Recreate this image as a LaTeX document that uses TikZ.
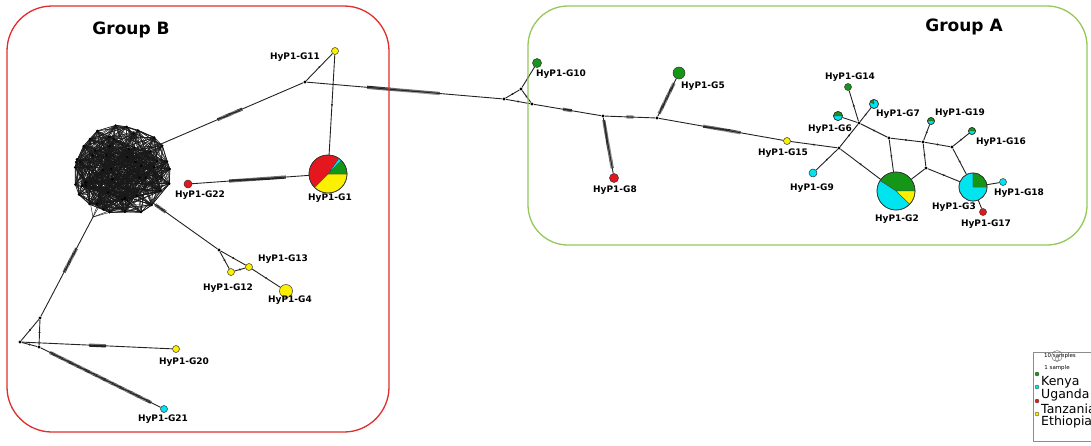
\documentclass[tikz,border=0pt]{standalone}
\usepackage{fontspec}
\setmainfont{DejaVu Sans}
\usetikzlibrary{decorations.markings,backgrounds}

\definecolor{kenya}{RGB}{22,150,22}
\definecolor{uganda}{RGB}{0,228,240}
\definecolor{tanz}{RGB}{228,22,30}
\definecolor{ethio}{RGB}{250,240,0}
\definecolor{edgeg}{RGB}{35,35,35}
\definecolor{boxred}{RGB}{225,45,45}
\definecolor{boxgreen}{RGB}{150,200,90}

\tikzset{
  hap/.style={circle, draw=black!80, line width=0.5pt, inner sep=0pt, minimum size=#1},
  jn/.style={circle, fill=black, inner sep=0pt, minimum size=3.4pt},
  lab/.style={font=\bfseries\fontsize{9}{10}\selectfont, inner sep=0pt},
  title/.style={font=\bfseries\fontsize{17}{19}\selectfont, inner sep=0pt},
  link/.style={draw=edgeg, line width=0.9pt},
  hair/.style={draw=black!90, line width=0.45pt},
  muts/.style 2 args={postaction={decorate, decoration={markings,
     mark=between positions #1 and #2 step 1pt with {\draw[edgeg, line width=0.6pt] (0,-1.6pt) -- (0,1.6pt);}}}},
  onemut/.style={postaction={decorate, decoration={markings,
     mark=at position #1 with {\fill[edgeg] (0,0) circle (1.1pt);}}}},
  onemut/.default=0.5,
  lgdot/.style={circle, draw=black!70, line width=0.4pt, inner sep=0pt, minimum size=4pt},
  lgtext/.style={anchor=west, inner sep=0pt, font=\fontsize{12.5}{13}\selectfont},
}

% pie wedge: node, radius, start angle, end angle (counter-clockwise), colour
\newcommand\wedgefill[5]{%
  \filldraw[fill=#5, draw=black!75, line width=0.35pt] (#1.center) -- ++(-#3:#2)
    arc[start angle=-#3, end angle=-#4, radius=#2] -- cycle;}

\begin{document}
\begin{tikzpicture}[x=1pt, y=-1pt]
\clip (0,0) rectangle (1091,445);

% group frames
\draw[boxred, line width=1.3pt, rounded corners=45pt] (7,6) rectangle (389,432);
\draw[boxgreen, line width=1.3pt, rounded corners=40pt] (528,6) rectangle (1087,245);
\node[title] (tB) at (131,30) {Group B};
\node[title] (tA) at (964,27) {Group A};

% ---------- haplotypes and median vectors ----------
% group B
\node[jn] (J1) at (305,82) {};
\node[hap=7, fill=ethio] (G11) at (335,51) {};
\node[hap=38] (G1) at (328,174) {};
\node[hap=8, fill=tanz] (G22) at (188,184) {};
\node[jn] (J3) at (219,250) {};
\node[hap=7, fill=ethio] (G13) at (249,267) {};
\node[hap=7, fill=ethio] (G12) at (231,272) {};
\node[hap=13, fill=ethio] (G4) at (286,291) {};
\node[jn] (J4) at (40,318) {};
\node[jn] (J5) at (20,342) {};
\node[jn] (J6) at (39,347) {};
\node[hap=7, fill=ethio] (G20) at (176,349) {};
\node[hap=7, fill=uganda] (G21) at (164,409) {};
\coordinate (cA) at (161,144);
\coordinate (cB) at (153,203);
\coordinate (cC) at (93,217);

% group A
\node[jn] (J2) at (504,99) {};
\node[jn] (J7) at (521,89) {};
\node[jn] (J8) at (532,104) {};
\node[hap=9, fill=kenya] (G10) at (537,63) {};
\node[jn] (J9) at (603,116) {};
\node[hap=9, fill=tanz] (G8) at (614,178) {};
\node[jn] (J10) at (657,118) {};
\node[hap=12, fill=kenya] (G5) at (679,73) {};
\node[hap=7, fill=ethio] (G15) at (787,141) {};
\node[jn] (J11) at (839,148) {};
\node[hap=8, fill=uganda] (G9) at (813,173) {};
\node[jn] (J12) at (859,123) {};
\node[hap=9] (G6) at (838,116) {};
\node[hap=7, fill=kenya] (G14) at (848,87) {};
\node[hap=9, fill=uganda] (G7) at (874,104) {};
\node[jn] (J13) at (889,138) {};
\node[jn] (J14) at (923,142) {};
\node[hap=7] (G19) at (931,121) {};
\node[jn] (J15) at (952,147) {};
\node[hap=7] (G16) at (972,131) {};
\node[jn] (J16) at (926,168) {};
\node[hap=38] (G2) at (896,191) {};
\node[hap=28] (G3) at (973,187) {};
\node[hap=7, fill=uganda] (G18) at (1003,182) {};
\node[hap=7, fill=tanz] (G17) at (983,212) {};

% ---------- connectors ----------
\begin{pgfonlayer}{background}
  \fill[white] (0,0) rectangle (1091,445);
  % dense cluster of group B
  \pgfmathsetseed{2024}
  \foreach \i in {1,...,22} {
    \pgfmathsetmacro\ang{\i*360/22 + 6*rand}
    \pgfmathsetmacro\rr{0.94+0.06*rand}
    \coordinate (h\i) at ({121+51*\rr*cos(\ang)},{170+47*\rr*sin(\ang)});
  }
  \foreach \i in {23,...,60} {
    \pgfmathsetmacro\ang{360*rnd}
    \pgfmathsetmacro\rr{0.9*sqrt(rnd)}
    \coordinate (h\i) at ({121+51*\rr*cos(\ang)},{170+47*\rr*sin(\ang)});
  }
  \foreach \i in {1,...,60} {
    \foreach \k in {1,...,11} {
      \pgfmathrandominteger{\j}{1}{60}
      \draw[hair] (h\i) -- (h\j);
    }
  }
  \draw[hair, line width=0.7pt] (h1) \foreach \i in {2,...,22} {-- (h\i)} -- cycle;
  \foreach \i [evaluate=\i as \n using {int(mod(\i+1,22)+1)}] in {1,...,22}
    {\draw[hair] (h\i) -- (h\n);}
  \foreach \i in {1,...,60} {\fill (h\i) circle (1.3);}
  \foreach \c in {cA,cB,cC} {
    \foreach \k in {1,...,5} {
      \pgfmathrandominteger{\j}{1}{60}
      \draw[hair] (\c) -- (h\j);
    }
  }

  % group B links
  \draw[link, muts={0.40}{0.57}] (cA) -- (J1);
  \draw[link, onemut] (J1) -- (G11);
  \draw[link, muts={0.31}{0.68}] (J1) -- (J2);
  \draw[link, onemut] (G11) -- (G1);
  \draw[link, muts={0.32}{0.80}] (G22) -- (G1);
  \draw[link, muts={0.04}{0.20}] (cB) -- (J3);
  \draw[link, onemut] (J3) -- (G13);
  \draw[link, onemut] (G13) -- (G4);
  \draw[link, onemut] (J3) -- (G12);
  \draw[link, onemut] (G12) -- (G13);
  \draw[link, muts={0.32}{0.56}] (cC) -- (J4);
  \draw[link, onemut] (J4) -- (J5);
  \draw[link, onemut] (J4) -- (J6);
  \draw[link, onemut] (J5) -- (J6);
  \draw[link, muts={0.45}{0.56}] (J5) -- (G20);
  \draw[link, muts={0.08}{0.92}] (J6) -- (G21);

  % group A links
  \draw[link, onemut] (J2) -- (J7);
  \draw[link, onemut] (J7) -- (J8);
  \draw[link, onemut] (J2) -- (J8);
  \draw[link, onemut] (J7) -- (G10);
  \draw[link, muts={0.44}{0.57}] (J8) -- (J9);
  \draw[link, muts={0.05}{0.92}] (J9) -- (G8);
  \draw[link, muts={0.44}{0.57}] (J9) -- (J10);
  \draw[link, muts={0.08}{0.88}] (J10) -- (G5);
  \draw[link, muts={0.36}{0.66}] (J10) -- (G15);
  \draw[link, onemut] (G15) -- (J11);
  \draw[link, onemut] (J11) -- (G9);
  \draw[link, onemut] (J11) -- (J12);
  \draw[link] (J12) -- (G6);
  \draw[link, onemut] (J12) -- (G14);
  \draw[link, onemut] (J12) -- (G7);
  \draw[link, onemut] (J12) -- (J13);
  \draw[link, onemut] (J13) -- (J14);
  \draw[link, onemut] (J14) -- (G19);
  \draw[link, onemut] (J14) -- (J15);
  \draw[link, onemut] (J15) -- (G16);
  \draw[link, onemut] (J14) -- (J16);
  \draw[link, onemut] (J13) -- (G2);
  \draw[link, onemut] (J11) -- (G2);
  \draw[link] (J16) -- (G2);
  \draw[link, onemut] (J15) -- (G3);
  \draw[link, onemut] (J16) -- (G3);
  \draw[link] (G3) -- (G18);
  \draw[link] (G3) -- (G17);
\end{pgfonlayer}

% ---------- pie charts ----------
\wedgefill{G1}{19}{55}{225}{tanz}
\wedgefill{G1}{19}{225}{360}{ethio}
\wedgefill{G1}{19}{0}{46}{kenya}
\wedgefill{G1}{19}{46}{55}{uganda}
\draw[black!80, line width=0.6pt] (G1) circle (19);

\wedgefill{G2}{19}{0}{147}{kenya}
\wedgefill{G2}{19}{147}{316}{uganda}
\wedgefill{G2}{19}{316}{360}{ethio}
\draw[black!80, line width=0.6pt] (G2) circle (19);

\wedgefill{G3}{14}{90}{360}{uganda}
\wedgefill{G3}{14}{0}{90}{kenya}
\draw[black!80, line width=0.6pt] (G3) circle (14);

\wedgefill{G6}{4.5}{0}{180}{kenya}
\wedgefill{G6}{4.5}{180}{360}{uganda}
\draw[black!80, line width=0.5pt] (G6) circle (4.5);

\wedgefill{G7}{4.5}{95}{150}{kenya}
\draw[black!80, line width=0.5pt] (G7) circle (4.5);

\wedgefill{G19}{3.5}{0}{180}{kenya}
\wedgefill{G19}{3.5}{180}{360}{uganda}
\draw[black!80, line width=0.5pt] (G19) circle (3.5);

\wedgefill{G16}{3.5}{0}{180}{kenya}
\wedgefill{G16}{3.5}{180}{360}{uganda}
\draw[black!80, line width=0.5pt] (G16) circle (3.5);

% ---------- labels ----------
\node[lab] (l11) at (295,57) {HyP1-G11};
\node[lab] (l1) at (330,198) {HyP1-G1};
\node[lab] (l22) at (200,195) {HyP1-G22};
\node[lab] (l13) at (283,259) {HyP1-G13};
\node[lab] (l12) at (228,288) {HyP1-G12};
\node[lab] (l4) at (290,300) {HyP1-G4};
\node[lab] (l20) at (184,362) {HyP1-G20};
\node[lab] (l21) at (163,419) {HyP1-G21};
\node[lab] (l10) at (561,74) {HyP1-G10};
\node[lab] (l5) at (703,86) {HyP1-G5};
\node[lab] (l8) at (615,190) {HyP1-G8};
\node[lab] (l15) at (783,153) {HyP1-G15};
\node[lab] (l14) at (850,77) {HyP1-G14};
\node[lab] (l7) at (898,114) {HyP1-G7};
\node[lab] (l19) at (960,113) {HyP1-G19};
\node[lab] (l6) at (830,129) {HyP1-G6};
\node[lab] (l16) at (1001,142) {HyP1-G16};
\node[lab] (l9) at (812,188) {HyP1-G9};
\node[lab] (l2) at (897,219) {HyP1-G2};
\node[lab] (l3) at (954,207) {HyP1-G3};
\node[lab] (l18) at (1019,193) {HyP1-G18};
\node[lab] (l17) at (986,224) {HyP1-G17};

% ---------- legend ----------
\draw[black!45, line width=0.6pt] (1033,352) rectangle (1100,441);
\node[inner sep=0pt, font=\fontsize{5.5}{6}\selectfont] (ls10) at (1060,356) {10 samples};
\draw[black!60, line width=0.4pt] (1057,356) circle (5.5);
\draw[black!60, line width=0.4pt] (1057,359) circle (2);
\node[inner sep=0pt, font=\fontsize{5.5}{6}\selectfont] (ls1) at (1057,368) {1 sample};
\node[lgdot, fill=kenya] (dk) at (1037,374) {};
\node[lgtext] (tk) at (1041,382) {Kenya};
\node[lgdot, fill=uganda] (du) at (1037,387) {};
\node[lgtext] (tu) at (1041,395) {Uganda};
\node[lgdot, fill=tanz] (dt) at (1037,401) {};
\node[lgtext] (tt) at (1041,409) {Tanzania};
\node[lgdot, fill=ethio] (de) at (1037,414) {};
\node[lgtext] (te) at (1041,422) {Ethiopia};
\end{tikzpicture}
\end{document}
